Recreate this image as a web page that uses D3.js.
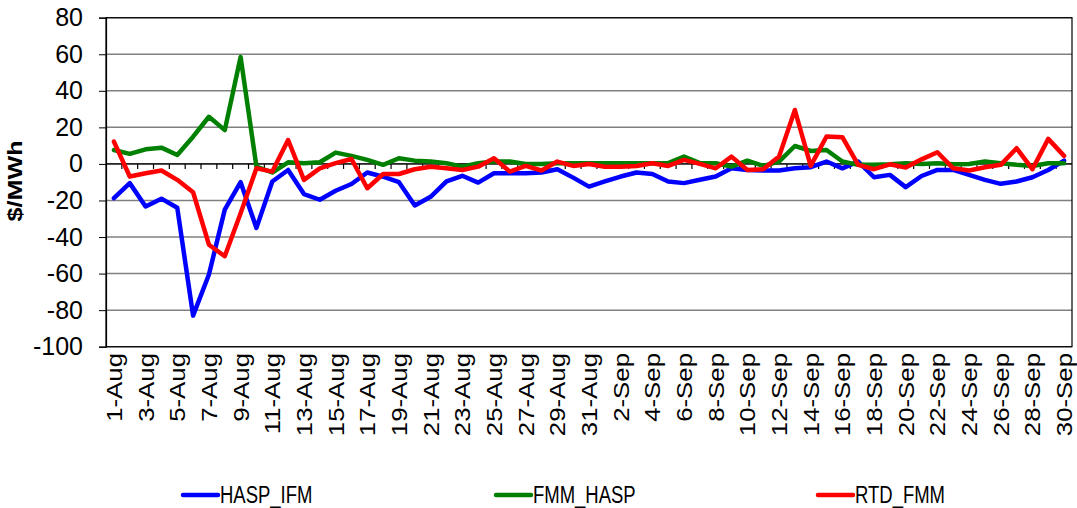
<!DOCTYPE html>
<html><head><meta charset="utf-8">
<script src="https://cdn.jsdelivr.net/npm/d3@7"></script>
<style>body{margin:0;background:#fff}svg{display:block}</style>
</head><body><svg id="c" width="1077" height="508"></svg>
<script>
const categories = ["1-Aug","2-Aug","3-Aug","4-Aug","5-Aug","6-Aug","7-Aug","8-Aug","9-Aug","10-Aug",
"11-Aug","12-Aug","13-Aug","14-Aug","15-Aug","16-Aug","17-Aug","18-Aug","19-Aug","20-Aug",
"21-Aug","22-Aug","23-Aug","24-Aug","25-Aug","26-Aug","27-Aug","28-Aug","29-Aug","30-Aug","31-Aug",
"1-Sep","2-Sep","3-Sep","4-Sep","5-Sep","6-Sep","7-Sep","8-Sep","9-Sep","10-Sep",
"11-Sep","12-Sep","13-Sep","14-Sep","15-Sep","16-Sep","17-Sep","18-Sep","19-Sep","20-Sep",
"21-Sep","22-Sep","23-Sep","24-Sep","25-Sep","26-Sep","27-Sep","28-Sep","29-Sep","30-Sep"];

const haspIfm = [-18.7,-10.5,-23.3,-19,-24,-83,-60.5,-25,-10,-35,
-9.6,-3.3,-16.5,-19.6,-14.7,-11,-4.7,-7,-10,-22.7,
-18,-9.6,-6.5,-10.2,-5.1,-5.1,-5.1,-4.7,-2.9,-7.5,-12.4,
-9.6,-6.9,-4.7,-5.5,-9.6,-10.5,-8.7,-6.9,-2.4,-3.3,
-3.6,-3.6,-2.4,-1.8,1.3,-2.4,1.3,-7.3,-6,-12.7,
-6.6,-3.3,-3.3,-6,-8.7,-10.9,-9.6,-7.3,-3.3,1.8];

const fmmHasp = [7.6,5.5,8,8.9,4.9,14.9,25.8,18.5,58.5,-1.5,
-4.7,0.9,0.4,0.9,6.2,4.4,2.2,-0.5,3.1,1.8,
1.3,0.4,-1.5,0.4,1.3,1.3,0,0,0.4,0.4,0.4,
0.4,0.4,0.4,0.4,0.4,4,0.4,0.4,-1.5,1.8,
-1.1,1.3,9.8,7.1,7.6,1.3,-0.5,-0.5,-0.2,0.4,
0,0.4,-0.2,0,1.3,0.4,-0.5,-1.1,0.4,0.4];

const rtdFmm = [12.2,-6.9,-5.1,-3.6,-8.7,-15.5,-44.2,-50.5,-27,-2.4,
-4.2,13.1,-8.7,-2.4,0.4,2.7,-13.3,-5.5,-5.5,-2.9,
-1.5,-2.4,-3.3,-1.5,3.1,-4.2,-1.1,-3.6,1.3,-1.1,0,
-1.5,-1.5,-1.1,0.4,-1.1,2.2,0,-2.4,4,-3.3,
-2.9,4,29.5,-1.1,15,14.6,-0.5,-2.9,-0.2,-2,
2.5,6.4,-2.4,-3.6,-1.8,-0.5,8.6,-2.9,13.7,4.4];

const yTicks = [-100,-80,-60,-40,-20,0,20,40,60,80];
const seriesNames = ["HASP_IFM","FMM_HASP","RTD_FMM"];
const seriesColors = ["#0000FF","#008000","#FF0000"];
const seriesValues = [haspIfm, fmmHasp, rtdFmm];

const FONT = "Liberation Sans, Arial, sans-serif";
const svg = d3.select("#c");
const L = 106, R = 1072, T = 17.7, B = 346.7;
const x = d3.scaleBand().domain(categories).range([L, R]).padding(0);
const y = d3.scaleLinear().domain([-100, 80]).range([B, T]);
const cx = c => x(c) + x.bandwidth() / 2;

// gridlines
svg.append("g").selectAll("line").data(yTicks).join("line")
  .attr("x1", L).attr("x2", R).attr("y1", d => y(d)).attr("y2", d => y(d))
  .attr("stroke", "#808080").attr("stroke-width", 1.5);

// plot border
svg.append("rect").attr("x", L).attr("y", T).attr("width", R - L).attr("height", B - T)
  .attr("fill", "none").attr("stroke", "#000").attr("stroke-width", 1.2);

// y axis
const yAxis = d3.axisLeft(y).tickValues(yTicks).tickSize(7).tickPadding(16).tickFormat(d => String(d));
const gy = svg.append("g").attr("transform", `translate(${L},0)`).call(yAxis);
gy.select(".domain").attr("stroke", "#000").attr("stroke-width", 1.2);
gy.selectAll(".tick line").attr("stroke", "#000");
gy.selectAll(".tick text").attr("font-family", FONT)
  .attr("font-size", 25).attr("fill", "#000");

// zero axis with category ticks
svg.append("line").attr("x1", L).attr("x2", R).attr("y1", y(0)).attr("y2", y(0))
  .attr("stroke", "#000").attr("stroke-width", 1.2);
svg.append("g").selectAll("line").data(categories.slice(1)).join("line")
  .attr("x1", d => x(d)).attr("x2", d => x(d)).attr("y1", y(0)).attr("y2", y(0) + 5)
  .attr("stroke", "#000").attr("stroke-width", 1.2);

// x labels
svg.append("g").selectAll("text").data(categories.filter((d, i) => i % 2 === 0)).join("text")
  .attr("transform", d => `translate(${cx(d) + 8},353) rotate(-90) scale(1.2,1)`)
  .attr("text-anchor", "end")
  .attr("font-family", FONT).attr("font-size", 21.5)
  .text(d => d);

// y title
svg.append("text").attr("transform", "translate(22,181) rotate(-90) scale(1.2,1)")
  .attr("text-anchor", "middle").attr("font-family", FONT)
  .attr("font-weight", "bold").attr("font-size", 21).text("$/MWh");

// lines
const line = d3.line().x((d, i) => cx(categories[i])).y(d => y(d));
svg.append("g").selectAll("path").data(seriesValues).join("path")
  .attr("d", d => line(d)).attr("fill", "none")
  .attr("stroke", (d, i) => seriesColors[i]).attr("stroke-width", 4.5)
  .attr("stroke-linejoin", "round").attr("stroke-linecap", "round");

// legend
const legX = [183, 496, 818];
const lg = svg.append("g").selectAll("g").data(seriesNames).join("g")
  .attr("transform", (d, i) => `translate(${legX[i]},495)`);
lg.append("line").attr("x1", 0).attr("x2", 35).attr("y1", 0).attr("y2", 0)
  .attr("stroke", (d, i) => seriesColors[i]).attr("stroke-width", 4.5).attr("stroke-linecap", "round");
lg.append("text").attr("transform", "translate(37,8) scale(1,1.3)")
  .attr("font-family", FONT).attr("font-size", 18.5).text(d => d);
</script></body></html>
